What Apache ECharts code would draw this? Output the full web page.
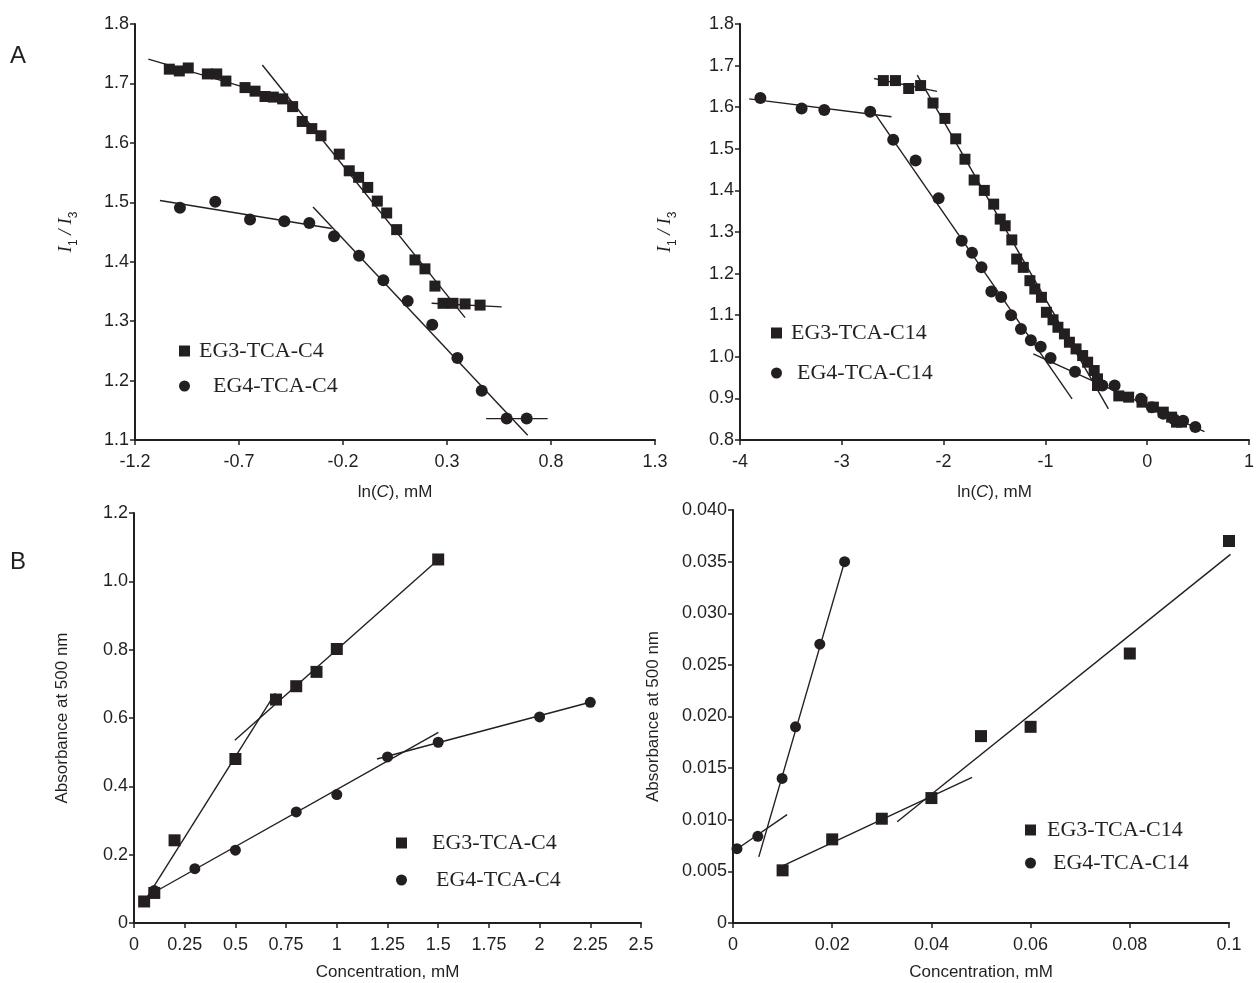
<!DOCTYPE html>
<html>
<head>
<meta charset="utf-8">
<script src="https://cdn.jsdelivr.net/npm/echarts@6/dist/echarts.min.js"></script>
<style>
html, body { margin: 0; background: #fff; }
#main { width: 1257px; height: 983px; }
</style>
</head>
<body>
<div id="main"></div>
<script>
// ---- panel A, left: I1/I3 vs ln(C), C4 surfactants
var lnC_eg3c4 = [-1.035, -0.987, -0.944, -0.852, -0.807, -0.763, -0.671, -0.623, -0.575, -0.535, -0.490, -0.442,
    -0.396, -0.350, -0.306, -0.218, -0.170, -0.125, -0.081, -0.035, 0.010, 0.058, 0.146, 0.194, 0.242, 0.281,
    0.329, 0.387, 0.459];
var ratio_eg3c4 = [1.724, 1.721, 1.726, 1.716, 1.716, 1.704, 1.693, 1.687, 1.678, 1.677, 1.674, 1.661,
    1.636, 1.624, 1.612, 1.581, 1.553, 1.542, 1.525, 1.502, 1.482, 1.454, 1.403, 1.388, 1.359, 1.330,
    1.330, 1.329, 1.327];
var lnC_eg4c4 = [-0.984, -0.814, -0.647, -0.482, -0.362, -0.243, -0.123, -0.006, 0.111, 0.229, 0.350, 0.467, 0.587, 0.683];
var ratio_eg4c4 = [1.491, 1.501, 1.471, 1.468, 1.465, 1.443, 1.410, 1.369, 1.334, 1.294, 1.238, 1.183, 1.136, 1.136];
var fits_A_c4 = [
    [[-1.136, 1.741], [-0.455, 1.671]],
    [[-0.588, 1.731], [0.387, 1.306]],
    [[0.226, 1.330], [0.563, 1.324]],
    [[-1.080, 1.503], [-0.254, 1.456]],
    [[-0.344, 1.492], [0.688, 1.108]],
    [[0.488, 1.136], [0.784, 1.136]]
];
var ticks_lnC_c4 = [-1.2, -0.7, -0.2, 0.3, 0.8, 1.3];

// ---- panel A, right: I1/I3 vs ln(C), C14 surfactants
var lnC_eg3c14 = [-2.592, -2.473, -2.343, -2.226, -2.104, -1.987, -1.881, -1.79, -1.70, -1.60,
    -1.508, -1.444, -1.395, -1.330, -1.282, -1.217, -1.152, -1.104, -1.039, -0.990, -0.925, -0.877,
    -0.813, -0.764, -0.699, -0.634, -0.585, -0.521, -0.488, -0.488, -0.279, -0.182, -0.051, 0.061,
    0.158, 0.240, 0.288, 0.337];
var ratio_eg3c14 = [1.664, 1.664, 1.645, 1.652, 1.610, 1.573, 1.524, 1.475, 1.425, 1.400,
    1.367, 1.331, 1.315, 1.281, 1.235, 1.215, 1.183, 1.163, 1.143, 1.107, 1.089, 1.071,
    1.055, 1.035, 1.019, 1.003, 0.987, 0.967, 0.947, 0.931, 0.906, 0.903, 0.891, 0.879,
    0.867, 0.855, 0.843, 0.843];
var lnC_eg4c14 = [-3.80, -3.395, -3.172, -2.721, -2.495, -2.275, -2.049, -1.822, -1.721, -1.628, -1.531,
    -1.434, -1.337, -1.240, -1.143, -1.046, -0.949, -0.709, -0.440, -0.320, -0.061, 0.046, 0.158,
    0.265, 0.353, 0.473];
var ratio_eg4c14 = [1.622, 1.597, 1.593, 1.589, 1.522, 1.472, 1.381, 1.279, 1.250, 1.215, 1.157,
    1.144, 1.100, 1.067, 1.040, 1.024, 0.997, 0.964, 0.931, 0.931, 0.899, 0.879, 0.863,
    0.850, 0.846, 0.831];
var fits_A_c14 = [
    [[-3.910, 1.620], [-2.512, 1.577]],
    [[-2.673, 1.584], [-0.738, 0.899]],
    [[-2.683, 1.669], [-2.065, 1.638]],
    [[-2.259, 1.677], [-0.381, 0.875]],
    [[-1.119, 1.007], [0.563, 0.820]]
];

// ---- panel B, left: absorbance vs concentration, C4
var conc_eg3c4 = [0.05, 0.1, 0.2, 0.5, 0.7, 0.8, 0.9, 1.0, 1.5];
var abs_eg3c4 = [0.063, 0.088, 0.242, 0.480, 0.654, 0.693, 0.735, 0.802, 1.064];
var conc_eg4c4 = [0.1, 0.3, 0.5, 0.8, 1.0, 1.25, 1.5, 2.0, 2.25];
var abs_eg4c4 = [0.095, 0.159, 0.213, 0.325, 0.376, 0.486, 0.529, 0.603, 0.646];
var fits_B_c4 = [
    [[0.05, 0.062], [0.697, 0.673]],
    [[0.497, 0.535], [1.501, 1.064]],
    [[0.1, 0.09], [1.501, 0.558]],
    [[1.198, 0.480], [2.249, 0.646]]
];

// ---- panel B, right: absorbance vs concentration, C14
var conc_eg3c14 = [0.01, 0.02, 0.03, 0.04, 0.05, 0.06, 0.08, 0.1];
var abs_eg3c14 = [0.0051, 0.0081, 0.0101, 0.0121, 0.0181, 0.0190, 0.0261, 0.0370];
var conc_eg4c14 = [0.0008, 0.005, 0.0099, 0.0126, 0.0175, 0.0225];
var abs_eg4c14 = [0.0072, 0.0084, 0.0140, 0.0190, 0.0270, 0.0350];
var fits_B_c14 = [
    [[0, 0.0069], [0.0109, 0.0105]],
    [[0.0052, 0.0064], [0.0225, 0.0350]],
    [[0.0099, 0.0055], [0.0482, 0.0141]],
    [[0.0331, 0.0098], [0.1003, 0.0357]]
];

var chartDom = document.getElementById('main');
var myChart = echarts.init(chartDom);
var ink = '#231f20';
var sans = 'Liberation Sans';
var serif = 'Liberation Serif';

function pairs(xs, ys) {
    return xs.map(function (x, i) { return [x, ys[i]]; });
}

function xAxisOf(idx, min, max, interval, name, gap, labelFmt) {
    return {
        type: 'value', gridIndex: idx, min: min, max: max, interval: interval,
        splitLine: { show: false },
        axisLine: { onZero: false, lineStyle: { color: ink, width: 2 } },
        axisTick: { inside: false, length: 5, lineStyle: { color: ink, width: 1.5 } },
        axisLabel: { color: ink, fontFamily: sans, fontSize: 18, margin: 13, formatter: labelFmt },
        name: name, nameLocation: 'middle', nameGap: gap,
        nameTextStyle: {
            color: ink, fontFamily: sans, fontSize: 17,
            rich: {
                n: { fontFamily: sans, fontSize: 17, color: ink },
                c: { fontFamily: sans, fontSize: 17, color: ink, fontStyle: 'italic' }
            }
        }
    };
}

function yAxisOf(idx, min, max, interval, name, gap, labelFmt) {
    return {
        type: 'value', gridIndex: idx, min: min, max: max, interval: interval,
        splitLine: { show: false },
        axisLine: { show: true, onZero: false, lineStyle: { color: ink, width: 2 } },
        axisTick: { show: true, inside: false, length: 5, lineStyle: { color: ink, width: 1.5 } },
        axisLabel: { color: ink, fontFamily: sans, fontSize: 18, margin: 6, formatter: labelFmt },
        name: name, nameLocation: 'middle', nameGap: gap, nameRotate: 90,
        nameTextStyle: {
            color: ink, fontFamily: sans, fontSize: 17,
            rich: {
                i: { fontFamily: serif, fontStyle: 'italic', fontSize: 19, color: ink, lineHeight: 22, verticalAlign: 'bottom' },
                s: { fontFamily: sans, fontSize: 12, color: ink, lineHeight: 22, verticalAlign: 'bottom', padding: [0, 0, -5, 0] }
            }
        }
    };
}

var ratioName = '{i|I}{s|1}{i| / I}{s|3}';
var one = function (v) { return v.toFixed(1); };

var series = [];
function addPanel(idx, sqName, sqData, ciName, ciData, fits, sqSize, ciSize) {
    fits.forEach(function (seg, k) {
        series.push({
            name: 'fit' + idx + '_' + k, type: 'line', xAxisIndex: idx, yAxisIndex: idx,
            data: seg, showSymbol: false, symbol: 'none', silent: true,
            lineStyle: { color: ink, width: 1.4 }, z: 2
        });
    });
    series.push({
        name: sqName, type: 'scatter', xAxisIndex: idx, yAxisIndex: idx, data: sqData,
        symbol: 'rect', symbolSize: sqSize, itemStyle: { color: ink, opacity: 1 }, z: 3
    });
    series.push({
        name: ciName, type: 'scatter', xAxisIndex: idx, yAxisIndex: idx, data: ciData,
        symbol: 'circle', symbolSize: ciSize, itemStyle: { color: ink, opacity: 1 }, z: 3
    });
}

addPanel(0, 'EG3-TCA-C4', pairs(lnC_eg3c4, ratio_eg3c4), 'EG4-TCA-C4', pairs(lnC_eg4c4, ratio_eg4c4), fits_A_c4, 11, 12);
addPanel(1, 'EG3-TCA-C14', pairs(lnC_eg3c14, ratio_eg3c14), 'EG4-TCA-C14', pairs(lnC_eg4c14, ratio_eg4c14), fits_A_c14, 11, 12);
addPanel(2, 'EG3-TCA-C4 ', pairs(conc_eg3c4, abs_eg3c4), 'EG4-TCA-C4 ', pairs(conc_eg4c4, abs_eg4c4), fits_B_c4, 12, 11);
addPanel(3, 'EG3-TCA-C14 ', pairs(conc_eg3c14, abs_eg3c14), 'EG4-TCA-C14 ', pairs(conc_eg4c14, abs_eg4c14), fits_B_c14, 12, 11);

function legendItem(name, left, top, pad) {
    return {
        data: [name], left: left, top: top, orient: 'vertical', padding: 0,
        itemWidth: 11, itemHeight: 11, selectedMode: false,
        formatter: function (n) { return n.trim(); },
        textStyle: { fontFamily: serif, fontSize: 22, color: ink, padding: [0, 0, 0, pad] }
    };
}

var xA1 = xAxisOf(0, -1.2, 1.3, 0.5, '{n|ln(}{c|C}{n|), mM}', 44, one);
xA1.axisTick.customValues = ticks_lnC_c4;
xA1.axisLabel.customValues = ticks_lnC_c4;

option = {
    backgroundColor: '#fff',
    animation: false,
    grid: [
        { left: 135, top: 24, width: 520, height: 416 },
        { left: 740, top: 24, width: 515, height: 416 },
        { left: 134, top: 513, width: 507, height: 410 },
        { left: 733, top: 510, width: 496, height: 413 }
    ],
    xAxis: [
        xA1,
        xAxisOf(1, -4, 1, 1, '{n|ln(}{c|C}{n|), mM}', 44),
        xAxisOf(2, 0, 2.5, 0.25, 'Concentration, mM', 41),
        xAxisOf(3, 0, 0.1, 0.02, 'Concentration, mM', 41)
    ],
    yAxis: [
        yAxisOf(0, 1.1, 1.8, 0.1, ratioName, 60, one),
        yAxisOf(1, 0.8, 1.8, 0.1, ratioName, 66, one),
        yAxisOf(2, 0, 1.2, 0.2, 'Absorbance at 500 nm', 63, function (v) { return v === 0 ? '0' : v.toFixed(1); }),
        yAxisOf(3, 0, 0.04, 0.005, 'Absorbance at 500 nm', 71, function (v) { return v === 0 ? '0' : v.toFixed(3); })
    ],
    legend: [
        legendItem('EG3-TCA-C4', 179, 340, 4),
        legendItem('EG4-TCA-C4', 179, 375, 18),
        legendItem('EG3-TCA-C14', 771, 322, 4),
        legendItem('EG4-TCA-C14', 771, 362, 10),
        legendItem('EG3-TCA-C4 ', 396, 832, 20),
        legendItem('EG4-TCA-C4 ', 396, 869, 24),
        legendItem('EG3-TCA-C14 ', 1025, 819, 6),
        legendItem('EG4-TCA-C14 ', 1025, 852, 12)
    ],
    graphic: [
        { type: 'text', left: 10, top: 44, style: { text: 'A', fontFamily: sans, fontSize: 24, fill: ink } },
        { type: 'text', left: 10, top: 550, style: { text: 'B', fontFamily: sans, fontSize: 24, fill: ink } }
    ],
    series: series
};

option && myChart.setOption(option);
</script>
</body>
</html>
